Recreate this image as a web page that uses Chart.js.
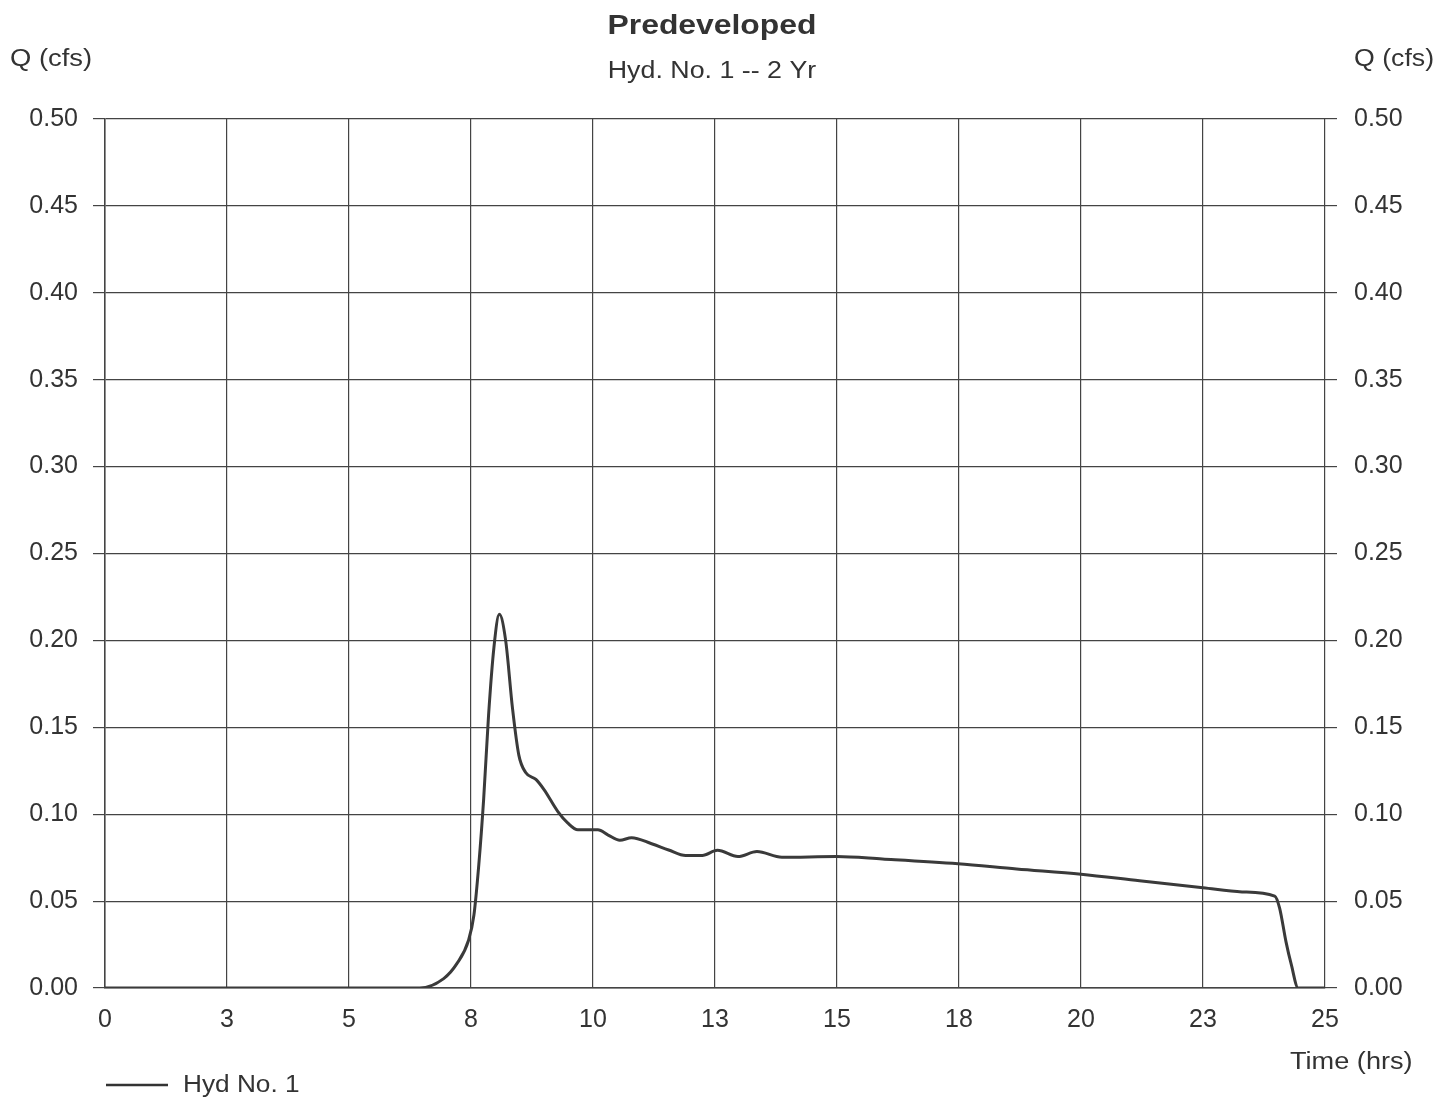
<!DOCTYPE html>
<html>
<head>
<meta charset="utf-8">
<script src="https://cdn.jsdelivr.net/npm/chart.js@4.4.1/dist/chart.umd.min.js"></script>
<style>
  html, body { margin: 0; padding: 0; background: #fff; overflow: hidden; }
  canvas { display: block; }
</style>
</head>
<body>
<canvas id="hydro" width="1438" height="1099"></canvas>
<script>
// hydrograph
var timeHrs = [0, 3, 6, 6.45, 6.94, 7.21, 7.45, 7.56, 7.66, 7.76, 7.86, 7.97, 8.08, 8.21, 8.35, 8.48, 8.62, 8.83, 9.0, 9.28, 9.48, 9.69, 10.1, 10.31, 10.55, 10.79, 11.2, 11.55, 11.9, 12.24, 12.55, 12.97, 13.36, 13.87, 14.99, 15.93, 17.48, 18.68, 20.0, 21.2, 22.5, 23.3, 23.97, 24.07, 24.2, 24.31, 24.45, 25];
var flowCfs = [0, 0, 0, 0, 0.0054, 0.014, 0.0275, 0.042, 0.071, 0.109, 0.157, 0.196, 0.215, 0.2, 0.161, 0.134, 0.124, 0.12, 0.114, 0.1015, 0.095, 0.091, 0.091, 0.088, 0.085, 0.0865, 0.083, 0.0794, 0.0762, 0.0762, 0.0792, 0.0756, 0.0785, 0.0752, 0.0756, 0.0742, 0.0715, 0.0685, 0.0655, 0.0617, 0.0577, 0.0553, 0.0529, 0.046, 0.0267, 0.0134, 0, 0];
var chartTitle = "Predeveloped";
var chartSub = "Hyd. No. 1 -- 2 Yr";
var seriesName = "Hyd No. 1";

var pts = timeHrs.map(function (t, i) { return { x: t, y: flowCfs[i] }; });
var txt = "#333";
var fnt = "'Liberation Sans', Arial, sans-serif";

// the scan is a bit wider than tall, so stretch free text sideways
function wideText(c, s, x, y, sx, align) {
    c.save();
    c.translate(x, y);
    c.scale(sx, 1);
    c.textAlign = align;
    c.fillText(s, 0, 0);
    c.restore();
}

var extras = {
    id: "extras",
    afterDraw: function (chart) {
        var c = chart.ctx;
        c.save();
        c.fillStyle = txt;
        c.textBaseline = "middle";
        c.font = "bold 27px " + fnt;
        wideText(c, chartTitle, 712, 27, 1.18, "center");
        c.font = "23px " + fnt;
        wideText(c, chartSub, 712, 72, 1.165, "center");
        wideText(c, "Q (cfs)", 10, 60, 1.19, "left");
        wideText(c, "Q (cfs)", 1354, 60, 1.16, "left");
        wideText(c, "Time (hrs)", 1290, 1063, 1.18, "left");
        wideText(c, seriesName, 183, 1086, 1.14, "left");
        c.strokeStyle = "#333";
        c.lineWidth = 2.5;
        c.beginPath();
        c.moveTo(106, 1085);
        c.lineTo(168, 1085);
        c.stroke();
        c.restore();
    }
};

var ctx = document.getElementById("hydro").getContext("2d");
var hydroChart = new Chart(ctx, {
    type: "line",
    data: {
        datasets: [{
            label: seriesName,
            data: pts,
            borderColor: "#3a3a3a",
            borderWidth: 3,
            pointRadius: 0,
            cubicInterpolationMode: "monotone",
            fill: false,
            yAxisID: "y"
        }]
    },
    options: {
        responsive: false,
        animation: false,
        layout: { padding: { top: 119, left: 0, right: 0, bottom: 0 } },
        plugins: { legend: { display: false }, title: { display: false }, tooltip: { enabled: false } },
        scales: {
            x: {
                type: "linear",
                min: 0, max: 25,
                afterFit: function (s) { s.height = 111; },
                border: { color: "#444", width: 1.5 },
                grid: { color: "#444", lineWidth: 1.2, drawTicks: false },
                ticks: {
                    stepSize: 2.5,
                    padding: 17,
                    color: txt,
                    font: { family: fnt, size: 25 },
                    maxRotation: 0,
                    autoSkip: false,
                    callback: function (v) { return Math.round(v); }
                }
            },
            y: {
                position: "left",
                min: 0, max: 0.5,
                afterFit: function (s) { s.width = 105; },
                border: { color: "#444", width: 1.5 },
                grid: { color: "#444", lineWidth: 1.2, tickLength: 12 },
                ticks: {
                    stepSize: 0.05, padding: 15, color: txt,
                    font: { family: fnt, size: 25 },
                    callback: function (v) { return v.toFixed(2); }
                }
            },
            y2: {
                position: "right",
                min: 0, max: 0.5,
                afterFit: function (s) { s.width = 113; },
                border: { display: false },
                grid: { color: "#444", lineWidth: 1.2, tickLength: 12, drawOnChartArea: false },
                ticks: {
                    stepSize: 0.05, padding: 17, color: txt,
                    font: { family: fnt, size: 25 },
                    callback: function (v) { return v.toFixed(2); }
                }
            }
        }
    },
    plugins: [extras]
});
</script>
</body>
</html>
